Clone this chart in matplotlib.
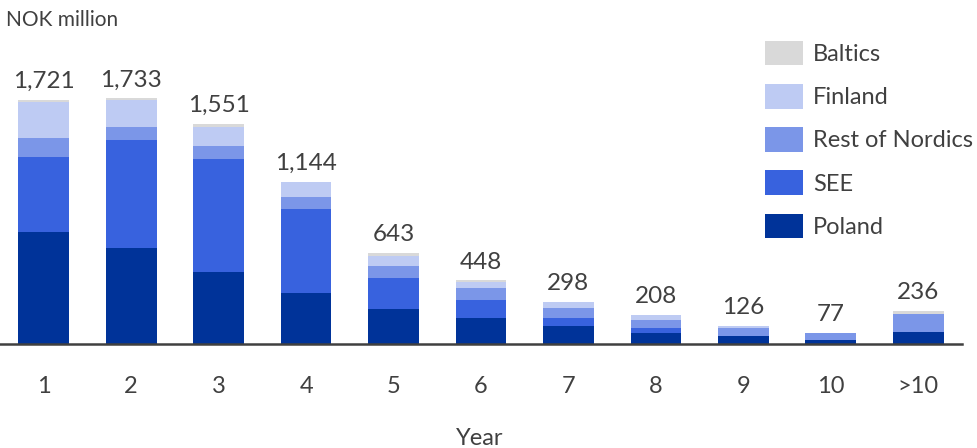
import numpy as np
import matplotlib.pyplot as plt

plt.rcParams['font.family'] = ['Lato', 'DejaVu Sans']

years = ["1", "2", "3", "4", "5", "6", "7", "8", "9", "10", ">10"]
totals = [1721, 1733, 1551, 1144, 643, 448, 298, 208, 126, 77, 236]

poland = [790, 677, 508, 360, 248, 183, 127, 78, 56, 30, 85]
see = [529, 761, 796, 593, 220, 124, 56, 35, 0, 0, 0]
rest_nordics = [134, 92, 92, 85, 84, 85, 70, 56, 56, 47, 130]
finland = [256, 191, 136, 106, 70, 42, 45, 39, 14, 0, 0]
baltics = [12, 12, 19, 0, 21, 14, 0, 0, 0, 0, 21]

series = [("Poland", poland, "#003399"),
          ("SEE", see, "#3862DE"),
          ("Rest of Nordics", rest_nordics, "#7B96E8"),
          ("Finland", finland, "#BECBF3"),
          ("Baltics", baltics, "#D9D9D9")]

text_col = "#404040"

fig = plt.figure(figsize=(9.78, 4.48), dpi=100)
ax = fig.add_axes([0.0, 0.2321, 0.9836, 0.6964])

x = np.arange(len(years))
bottom = np.zeros(len(years))
for name, vals, col in series:
    ax.bar(x, vals, width=0.58, bottom=bottom, color=col, label=name)
    bottom += np.array(vals)

for xi, t in zip(x, totals):
    ax.text(xi, t + 55, f"{t:,}", ha="center", va="bottom",
            fontsize=17.5, color=text_col)

ax.set_xlim(-0.5, 10.5)
ax.set_ylim(0, 2200)
ax.set_xticks(x)
ax.set_xticklabels(years, fontsize=17, color=text_col)
ax.tick_params(axis="x", length=0, pad=23)
ax.set_yticks([])
for s in ["top", "left", "right"]:
    ax.spines[s].set_visible(False)
ax.spines["bottom"].set_color(text_col)
ax.spines["bottom"].set_linewidth(1.8)

fig.text(0.4908, 0.022, "Year", ha="center", va="center",
         fontsize=17, color=text_col)
fig.text(0.006, 0.955, "NOK million", ha="left", va="center",
         fontsize=15, color=text_col)

handles, labels = ax.get_legend_handles_labels()
leg = fig.legend(handles[::-1], labels[::-1], loc="upper left",
                 bbox_to_anchor=(0.782, 0.908), frameon=False,
                 fontsize=17, handlelength=1.6, handleheight=1.2,
                 handletextpad=0.45, labelspacing=0.8,
                 borderpad=0, borderaxespad=0)
for t in leg.get_texts():
    t.set_color(text_col)

fig.savefig("out.png", dpi=100)
